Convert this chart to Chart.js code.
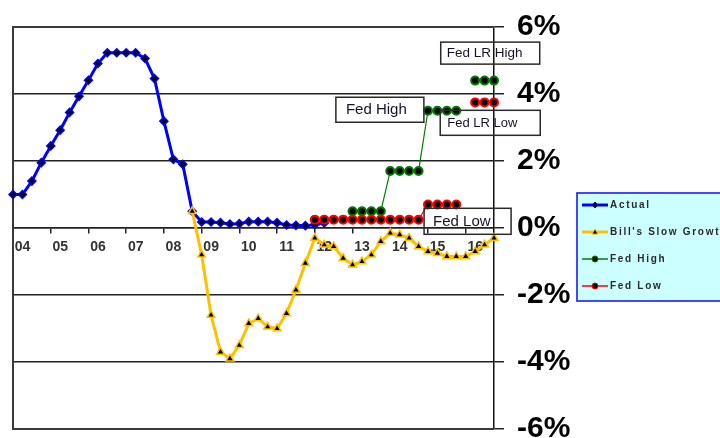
<!DOCTYPE html>
<html>
<head>
<meta charset="utf-8">
<script src="https://cdn.jsdelivr.net/npm/chart.js@4.4.1/dist/chart.umd.min.js"></script>
<style>
  html, body { margin: 0; padding: 0; background: #fff; }
  canvas { display: block; }
</style>
</head>
<body>
<canvas id="chart" width="720" height="438"></canvas>
<script>
// Year labels along the category axis (one label per four quarters)
const years = ['04', '05', '06', '07', '08', '09', '10', '11', '12', '13', '14', '15', '16'];
// Quarterly categories 04Q1 .. 16Q4
const quarters = years.flatMap(y => ['Q1', 'Q2', 'Q3', 'Q4'].map(q => y + q));

// Fed funds rate, actual (%), from 04Q1
const actualStart = 0;
const actual = [1.00, 1.00, 1.40, 1.95, 2.45, 2.92, 3.45, 3.93, 4.41, 4.91,
                5.23, 5.23, 5.23, 5.23, 5.06, 4.46, 3.19, 2.05, 1.90, 0.50,
                0.18, 0.18, 0.16, 0.12, 0.13, 0.19, 0.19, 0.19, 0.16, 0.09,
                0.08, 0.07, 0.10, 0.15];

// Bill's slow-growth path (%), from 08Q4
const slowGrowthStart = 19;
const slowGrowth = [0.50, -0.80, -2.60, -3.70, -3.90, -3.50, -2.85, -2.70, -2.95, -3.00,
                    -2.55, -1.85, -1.05, -0.30, -0.50, -0.55, -0.90, -1.10, -1.00, -0.80,
                    -0.40, -0.15, -0.20, -0.30, -0.55, -0.70, -0.75, -0.85, -0.85, -0.85,
                    -0.70, -0.50, -0.30];

// Fed projections, high end (%), from 13Q1; the last three are the longer-run value
const fedHighStart = 36;
const fedHigh = [0.50, 0.50, 0.50, 0.50, 1.70, 1.70, 1.70, 1.70, 3.50, 3.50, 3.50, 3.50,
                 null, 4.40, 4.40, 4.40];

// Fed projections, low end (%), from 12Q1; the last three are the longer-run value
const fedLowStart = 32;
const fedLow = [0.25, 0.25, 0.25, 0.25, 0.25, 0.25, 0.25, 0.25, 0.25, 0.25, 0.25, 0.25,
                0.70, 0.70, 0.70, 0.70, null, 3.75, 3.75, 3.75];

// Value axis ticks (%)
const yTicks = [-6, -4, -2, 0, 2, 4, 6];

// Text boxes: [label, category position, value position]
const noteLabels = ['Fed LR High', 'Fed High', 'Fed LR Low', 'Fed Low'];
const noteX = [50.6, 38.9, 50.6, 48.2];
const noteY = [5.22, 3.53, 3.14, 0.20];

function place(start, values) {
  const out = new Array(quarters.length).fill(null);
  values.forEach((v, i) => { out[start + i] = v; });
  return out;
}

const FONT = '"Liberation Sans", Arial, sans-serif';

// Box geometry and type sizes for the text boxes
const noteStyle = [
  { w: 99, h: 22, size: 13.5, pad: 6 },
  { w: 88, h: 25, size: 15, pad: 10 },
  { w: 100, h: 25, size: 13, pad: 7 },
  { w: 87, h: 26, size: 15, pad: 9 }
];

const frame = {
  id: 'frame',
  beforeDatasetsDraw(chart) {
    const { ctx, chartArea: a } = chart;
    ctx.save();
    ctx.strokeStyle = '#3a3a3a';
    ctx.lineWidth = 2;
    ctx.beginPath();
    ctx.moveTo(a.right, a.top);
    ctx.lineTo(a.left, a.top);
    ctx.lineTo(a.left, a.bottom);
    ctx.lineTo(a.right, a.bottom);
    ctx.stroke();
    ctx.restore();
  }
};

const notes = {
  id: 'notes',
  afterDatasetsDraw(chart) {
    const { ctx, scales } = chart;
    ctx.save();
    noteLabels.forEach((text, i) => {
      const s = noteStyle[i];
      const cx = scales.x.getPixelForValue(noteX[i]);
      const cy = scales.y.getPixelForValue(noteY[i]);
      const x0 = cx - s.w / 2, y0 = cy - s.h / 2;
      ctx.strokeStyle = '#2a2a2a';
      ctx.lineWidth = 1.5;
      ctx.strokeRect(x0, y0, s.w, s.h);
      ctx.fillStyle = '#141428';
      ctx.font = `${s.size}px ${FONT}`;
      ctx.textAlign = 'left';
      ctx.textBaseline = 'middle';
      ctx.fillText(text, x0 + s.pad, cy + 0.5);
    });
    ctx.restore();
  }
};

function drawMarker(ctx, style, x, y, r, fill, stroke) {
  ctx.beginPath();
  if (style === 'rectRot') {
    ctx.moveTo(x, y - r); ctx.lineTo(x + r, y); ctx.lineTo(x, y + r); ctx.lineTo(x - r, y);
  } else if (style === 'triangle') {
    ctx.moveTo(x, y - r); ctx.lineTo(x + r, y + r * 0.7); ctx.lineTo(x - r, y + r * 0.7);
  } else {
    ctx.arc(x, y, r, 0, Math.PI * 2);
  }
  ctx.closePath();
  ctx.fillStyle = fill;
  ctx.fill();
  ctx.strokeStyle = stroke;
  ctx.lineWidth = 1;
  ctx.stroke();
}

const keyBox = {
  id: 'keyBox',
  afterDraw(chart) {
    const { ctx } = chart;
    const bx = 577, by = 193, bw = 160, bh = 108;
    ctx.save();
    ctx.fillStyle = '#ccffff';
    ctx.fillRect(bx, by, bw, bh);
    ctx.strokeStyle = '#3333ff';
    ctx.lineWidth = 1.8;
    ctx.strokeRect(bx, by, bw, bh);
    chart.data.datasets.forEach((ds, i) => {
      const y = by + 12 + i * 27;
      ctx.strokeStyle = ds.borderColor;
      ctx.lineWidth = Math.max(ds.borderWidth, 1.5);
      ctx.beginPath();
      ctx.moveTo(582, y);
      ctx.lineTo(608, y);
      ctx.stroke();
      drawMarker(ctx, ds.pointStyle, 595, y, 3, '#000', ds.pointBorderColor);
      ctx.fillStyle = '#2a2a2a';
      ctx.font = `bold 10px ${FONT}`;
      ctx.letterSpacing = '1.7px';
      ctx.textAlign = 'left';
      ctx.textBaseline = 'middle';
      ctx.fillText(ds.label, 610, y + 0.5);
      ctx.letterSpacing = '0px';
    });
    ctx.restore();
  }
};

new Chart(document.getElementById('chart'), {
  type: 'line',
  data: {
    labels: quarters,
    datasets: [
      {
        label: 'Actual',
        data: place(actualStart, actual),
        borderColor: '#0000ff', borderWidth: 3,
        pointStyle: 'rectRot', pointRadius: 4,
        pointBackgroundColor: '#000', pointBorderColor: '#0000ff', pointBorderWidth: 1.5,
        order: 4
      },
      {
        label: "Bill's Slow Growth",
        data: place(slowGrowthStart, slowGrowth),
        borderColor: '#ffc000', borderWidth: 3,
        pointStyle: 'triangle', pointRadius: 4.5,
        pointBackgroundColor: '#000', pointBorderColor: '#ffc000', pointBorderWidth: 1.5,
        order: 3
      },
      {
        label: 'Fed High',
        data: place(fedHighStart, fedHigh),
        borderColor: '#008000', borderWidth: 1.2,
        pointStyle: 'circle', pointRadius: 4,
        pointBackgroundColor: '#000', pointBorderColor: '#007a00', pointBorderWidth: 2,
        order: 2
      },
      {
        label: 'Fed Low',
        data: place(fedLowStart, fedLow),
        borderColor: '#ff0000', borderWidth: 1.2,
        pointStyle: 'circle', pointRadius: 4,
        pointBackgroundColor: '#000', pointBorderColor: '#ff0000', pointBorderWidth: 2,
        order: 1
      }
    ]
  },
  options: {
    responsive: false,
    animation: false,
    devicePixelRatio: 1,
    spanGaps: false,
    layout: { padding: { left: 13, top: 27, right: 0, bottom: 9 } },
    elements: { line: { tension: 0 } },
    datasets: { line: { clip: false } },
    plugins: { legend: { display: false }, tooltip: { enabled: false } },
    scales: {
      x: {
        type: 'category',
        position: { y: 0 },
        offset: false,
        ticks: {
          autoSkip: false, maxRotation: 0, labelOffset: 9.5, padding: 6,
          color: '#333', font: { family: FONT, size: 14, weight: 'bold' },
          callback: v => years[v / 4]
        },
        grid: { drawOnChartArea: false, tickLength: 5, color: '#222', lineWidth: 1.5 },
        border: { color: '#222', width: 1.5 },
        afterBuildTicks: scale => { scale.ticks = scale.ticks.filter(t => t.value % 4 === 0); },
        afterFit: scale => { scale.height = 0; scale.paddingLeft = 0; scale.paddingRight = 0; }
      },
      y: {
        position: 'right',
        min: -6, max: 6,
        ticks: {
          padding: 13, color: '#000',
          font: { family: FONT, size: 30, weight: 'bold' },
          callback: v => v + '%'
        },
        grid: { color: '#222', lineWidth: 1.5, tickLength: 10 },
        border: { color: '#111', width: 1.5 },
        afterBuildTicks: scale => { scale.ticks = yTicks.map(v => ({ value: v })); },
        afterFit: scale => { scale.width = 226; scale.paddingTop = 0; scale.paddingBottom = 0; }
      }
    }
  },
  plugins: [frame, notes, keyBox]
});
</script>
</body>
</html>
